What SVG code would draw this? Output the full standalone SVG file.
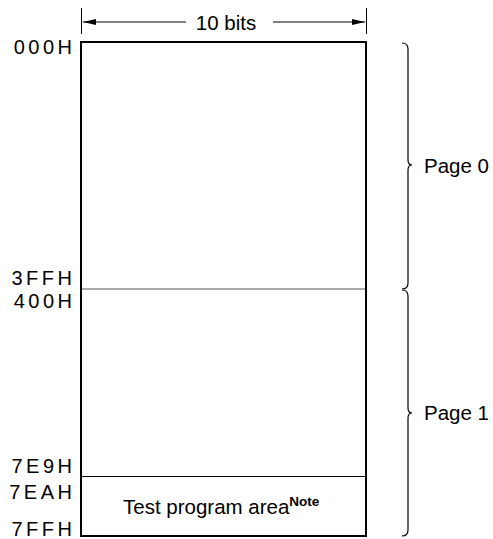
<svg xmlns="http://www.w3.org/2000/svg" width="493" height="539" viewBox="0 0 493 539">
<style>
.lbl{font-family:"Liberation Sans",Arial,sans-serif;font-size:20px;fill:#000;letter-spacing:3.5px;text-anchor:end}
.txt{font-family:"Liberation Sans",Arial,sans-serif;font-size:20.5px;fill:#000}
.ln{stroke:#000;stroke-width:1;fill:none}
.brace{stroke:#000;stroke-width:1.2;fill:none}
</style>
<defs>
<marker id="ah" viewBox="0 0 13 6" refX="13" refY="3" markerWidth="13" markerHeight="6" orient="auto" markerUnits="userSpaceOnUse">
<path d="M0,0 L13,3 L0,6 Z" fill="#000"/>
</marker>
</defs>
<rect width="493" height="539" fill="#fff"/>
<g id="memory">
<rect x="81" y="42" width="285" height="494" fill="#fff" stroke="#000" stroke-width="2"/>
<line x1="82" y1="289" x2="365" y2="289" stroke="#555" stroke-width="1"/>
<line x1="82" y1="476.5" x2="365" y2="476.5" stroke="#000" stroke-width="1"/>
<text class="txt" x="123" y="514">Test program area<tspan font-size="13.5" font-weight="bold" dy="-8">Note</tspan></text>
</g>
<g id="labels">
<text class="lbl" x="75.5" y="54">000H</text>
<text class="lbl" x="75.5" y="285">3FFH</text>
<text class="lbl" x="75.5" y="308">400H</text>
<text class="lbl" x="75.5" y="473">7E9H</text>
<text class="lbl" x="75.5" y="499">7EAH</text>
<text class="lbl" x="75.5" y="536">7FFH</text>
</g>
<g id="connectors">
<line class="ln" x1="81.5" y1="8" x2="81.5" y2="34"/>
<line class="ln" x1="366.5" y1="8" x2="366.5" y2="34"/>
<line class="ln" x1="186" y1="22" x2="83" y2="22" marker-end="url(#ah)"/>
<line class="ln" x1="273" y1="22" x2="365" y2="22" marker-end="url(#ah)"/>
<text class="txt" x="226" y="29.5" text-anchor="middle">10 bits</text>
</g>
<g id="page0">
<path class="brace" d="M402,43 Q408,43 408,49 L408,160 Q408,165 412,165 Q408,165 408,170 L408,283 Q408,289 402,289"/>
<text class="txt" x="424" y="173">Page 0</text>
</g>
<g id="page1">
<path class="brace" d="M402,290 Q408,290 408,296 L408,408 Q408,413 412,413 Q408,413 408,418 L408,530 Q408,536 402,536"/>
<text class="txt" x="424" y="420">Page 1</text>
</g>
</svg>
